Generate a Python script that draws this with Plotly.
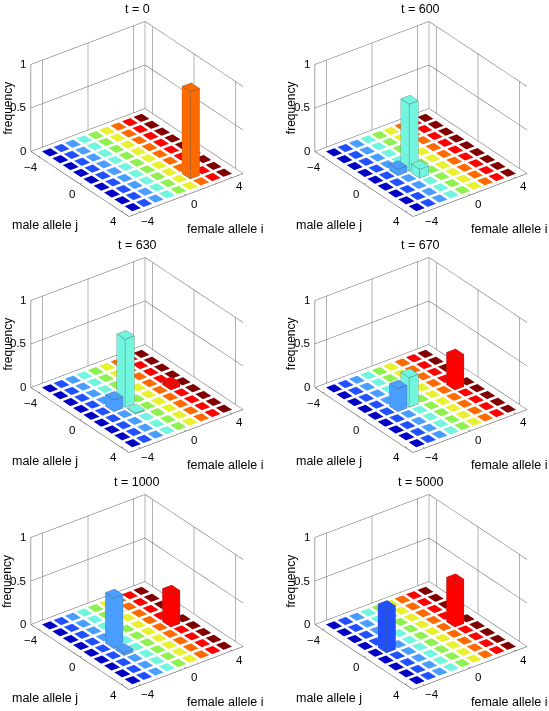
import plotly.graph_objects as go

# ---- data -------------------------------------------------------------
alleles = [-4, -3, -2, -1, 0, 1, 2, 3, 4]
times = [0, 600, 630, 670, 1000, 5000]
# column colours (jet-like) per female allele i
jet = ["#0000c4", "#2050ff", "#4a9eff", "#72f5de", "#90f050", "#e8f030", "#ff6a00", "#ff0000", "#800000"]
peaks_t0 = {(2, 3): 1.0}
peaks_t600 = {(-1, 0): 0.77, (-2, 0): 0.07, (-1, 1): 0.10}
peaks_t630 = {(-1, 0): 0.78, (-2, 0): 0.13, (3, 0): 0.05, (-1, 1): 0.01}
peaks_t670 = {(-1, 0): 0.34, (-2, 0): 0.26, (3, 0): 0.37}
peaks_t1000 = {(-2, 0): 0.58, (3, 0): 0.38, (-2, 1): 0.03}
peaks_t5000 = {(-3, 0): 0.50, (3, 0): 0.51}
panels = [peaks_t0, peaks_t600, peaks_t630, peaks_t670, peaks_t1000, peaks_t5000]
ticks_ij = [-4, 0, 4]
ticks_z = [0, 0.5, 1]
z_labels = ["0", "0.5", "1"]

# ---- layout constants ---------------------------------------------------
W, H = 549, 711
I_R = 5.0
J_R = 4.75
half = 0.4
flat_half = 0.37
DW, DH = 250, 230
CX = [137.0, 420.7]
CY = [118.5, 354.5, 591.8]
TOPDY = [0, 236, 473.3]
LEFTDX = [0, 283.7]
EYE_D = 1.0
ASPECT = 0.87
FONT = "Liberation Sans"

fig = go.Figure()


def box_mesh(peaks):
    xs, ys, zs, a, b, c, cols = [], [], [], [], [], [], []
    def quad(p, col):
        n = len(xs)
        for q in p:
            xs.append(q[0]); ys.append(q[1]); zs.append(q[2])
        a.extend([n, n]); b.extend([n + 1, n + 2]); c.extend([n + 2, n + 3])
        cols.extend([col, col])
    for ci, i in enumerate(alleles):
        for j in alleles:
            h = peaks.get((i, j), 0.0)
            col = jet[ci]
            w = half if h > 0 else flat_half
            x0, x1, y0, y1 = i - w, i + w, j - w, j + w
            quad([(x0, y0, h), (x1, y0, h), (x1, y1, h), (x0, y1, h)], col)
            if h > 0:
                quad([(x0, y0, 0), (x1, y0, 0), (x1, y0, h), (x0, y0, h)], col)
                quad([(x0, y1, 0), (x1, y1, 0), (x1, y1, h), (x0, y1, h)], col)
                quad([(x0, y0, 0), (x0, y1, 0), (x0, y1, h), (x0, y0, h)], col)
                quad([(x1, y0, 0), (x1, y1, 0), (x1, y1, h), (x1, y0, h)], col)
    return go.Mesh3d(x=xs, y=ys, z=zs, i=a, j=b, k=c, facecolor=cols, flatshading=True,
                     lighting=dict(ambient=1, diffuse=0, specular=0, roughness=1, fresnel=0),
                     hoverinfo="skip", showscale=False)


def edges(peaks):
    X, Y, Z = [], [], []
    for (i, j), h in peaks.items():
        x0, x1, y0, y1 = i - half, i + half, j - half, j + half
        ring = [(x0, y0), (x1, y0), (x1, y1), (x0, y1), (x0, y0)]
        for zz in (0, h):
            for p in ring:
                X.append(p[0]); Y.append(p[1]); Z.append(zz)
            X.append(None); Y.append(None); Z.append(None)
        for p in ring[:4]:
            X += [p[0], p[0], None]; Y += [p[1], p[1], None]; Z += [0, h, None]
    return X, Y, Z


def seg_trace(segs, color, width):
    X, Y, Z = [], [], []
    for s in segs:
        for p in s:
            X.append(p[0]); Y.append(p[1]); Z.append(p[2])
        X.append(None); Y.append(None); Z.append(None)
    return X, Y, Z, color, width


for n, peaks in enumerate(panels):
    col, row = n % 2, n // 2
    sid = "scene" if n == 0 else f"scene{n + 1}"
    fig.add_trace(box_mesh(peaks).update(scene=sid))
    X, Y, Z = edges(peaks)
    if X:
        fig.add_trace(go.Scatter3d(x=X, y=Y, z=Z, mode="lines", scene=sid, hoverinfo="skip",
                                   line=dict(color="#4a5a5a", width=1), showlegend=False))
    grid = []
    for zt in ticks_z:
        grid.append([(-I_R, -J_R, zt), (I_R, -J_R, zt)])
        grid.append([(I_R, -J_R, zt), (I_R, J_R, zt)])
    for t in ticks_ij:
        grid.append([(t, -J_R, 0), (t, -J_R, 1)])
        grid.append([(I_R, t, 0), (I_R, t, 1)])
    grid.append([(I_R, -J_R, 0), (I_R, -J_R, 1)])
    frame = [[(-I_R, J_R, 0), (I_R, J_R, 0)], [(-I_R, -J_R, 0), (-I_R, J_R, 0)],
             [(-I_R, -J_R, 0), (-I_R, -J_R, 1)]]
    for t in ticks_ij:
        frame.append([(t, J_R, 0), (t, J_R - 0.15, 0)])
        frame.append([(-I_R, t, 0), (-I_R + 0.15, t, 0)])
    for zt in ticks_z:
        frame.append([(-I_R, -J_R, zt), (-I_R + 0.15, -J_R, zt)])
    for segs, c, w in ((grid, "#666666", 1), (frame, "#444444", 1)):
        gx, gy, gz, c, w = seg_trace(segs, c, w)
        fig.add_trace(go.Scatter3d(x=gx, y=gy, z=gz, mode="lines", scene=sid, hoverinfo="skip",
                                   line=dict(color=c, width=w), showlegend=False))

    annos = []
    tick_font = dict(family=FONT, size=11.5, color="#000")
    for t in ticks_ij:
        lab = str(t).replace("-", "\u2212")
        annos.append(dict(x=t, y=J_R, z=0, text=lab, showarrow=False, xshift=8, yshift=-9, font=tick_font))
        annos.append(dict(x=-I_R, y=t, z=0, text=lab, showarrow=False, xshift=-8, yshift=-10.5, font=tick_font))
    for zt, lab in zip(ticks_z, z_labels):
        annos.append(dict(x=-I_R, y=-J_R, z=zt, text=lab, showarrow=False, xanchor="right", xshift=-3,
                          font=tick_font))

    ax_off = dict(showgrid=False, showbackground=False, zeroline=False, showline=False,
                  showticklabels=False, ticks="", title=dict(text=""), showspikes=False)
    scene = dict(
        domain=dict(x=[(CX[col] - DW / 2) / W, (CX[col] + DW / 2) / W],
                    y=[1 - (CY[row] + DH / 2) / H, 1 - (CY[row] - DH / 2) / H]),
        xaxis=dict(range=[-I_R, I_R], **ax_off),
        yaxis=dict(range=[J_R, -J_R], **ax_off),
        zaxis=dict(range=[0, 1], **ax_off),
        aspectmode="manual",
        aspectratio=dict(x=1.428 * ASPECT, y=1.628 * ASPECT, z=1.005 * ASPECT),
        camera=dict(projection=dict(type="orthographic"), center=dict(x=0, y=0, z=0),
                    up=dict(x=0, y=0, z=1),
                    eye=dict(x=-0.521 * EYE_D, y=-0.691 * EYE_D, z=0.5 * EYE_D)),
        annotations=annos,
        bgcolor="white",
    )
    fig.update_layout(**{sid: scene})

    dx, dy = LEFTDX[col], TOPDY[row]
    def paper(text, x, y, size=12.5, angle=0):
        fig.add_annotation(text=text, x=(x + dx) / W, y=1 - (y + dy) / H, xref="paper", yref="paper",
                           showarrow=False, textangle=angle, xanchor="center", yanchor="middle",
                           font=dict(family=FONT, size=size, color="#000"))
    paper(f"t = {times[n]}", 137, 9)
    paper("male allele j", 45, 224.5)
    paper("female allele i", 225, 229)
    paper("frequency", 7.5, 108, size=12, angle=-90)

fig.update_layout(width=W, height=H, margin=dict(l=0, r=0, t=0, b=0), showlegend=False,
                  paper_bgcolor="white", font=dict(family=FONT))
fig.write_html("out.html", post_script="document.body.style.margin='0';",
               config=dict(displayModeBar=False))
